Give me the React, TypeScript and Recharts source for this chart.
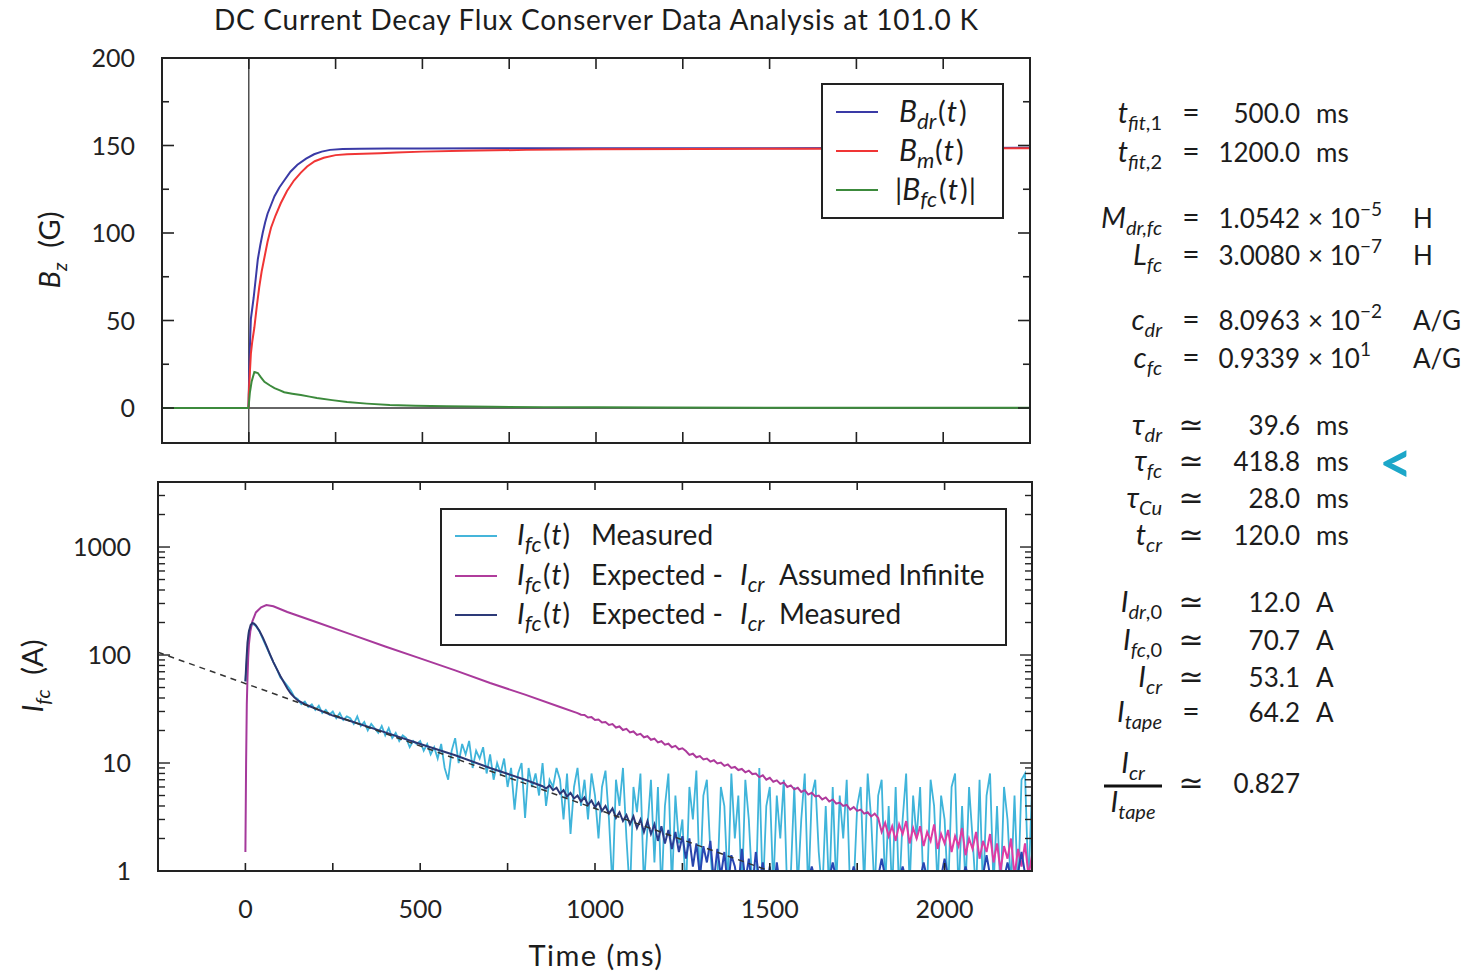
import React from "react";
import { Line, LineChart, ReferenceLine, XAxis, YAxis } from "recharts";

const FONT = "Lato, 'Open Sans', 'DejaVu Sans', sans-serif";
const INK = "#222222";

// top panel: B_z (G) vs time (ms)
const bdrTimes = [-250, -1, 0, 3, 6, 10, 14, 20, 26, 33, 40, 47, 54, 64, 74, 88, 102, 120, 140, 165, 188, 210, 234, 270, 320, 400, 500, 700, 900, 1200, 1500, 1800, 2100, 2250];
const bdrValues = [0, 0, 9, 34, 51, 57, 63, 74, 85, 93, 100, 106, 111, 116, 121, 126, 130, 135, 139, 142.5, 145, 146.5, 147.5, 148, 148.2, 148.3, 148.3, 148.4, 148.4, 148.5, 148.5, 148.6, 148.6, 148.7];

const bmTimes = [-250, -1, 0, 3, 6, 10, 16, 23, 30, 37, 45, 54, 64, 77, 92, 110, 130, 150, 168, 190, 216, 250, 283, 330, 378, 425, 500, 617, 800, 997, 1300, 1600, 1900, 2250];
const bmValues = [0, 0, 8, 20, 31, 38, 46, 58, 69, 78, 86, 95, 103, 110, 117, 124, 130, 134.5, 138, 141, 143, 144.5, 145, 145.3, 145.6, 146, 146.5, 147, 147.5, 147.8, 148, 148.2, 148.3, 148.5];

const bfcTimes = [-250, -1, 0, 3, 8, 16, 26, 35, 45, 60, 74, 88, 102, 125, 150, 175, 196, 240, 283, 340, 406, 480, 570, 700, 850, 1000, 1200, 1500, 2250];
const bfcValues = [0, 0, 2, 8.6, 15, 20.6, 20, 17.5, 15, 13, 11.4, 10.2, 9, 8.2, 7.4, 6.5, 5.7, 4.5, 3.4, 2.5, 1.7, 1.3, 1.0, 0.7, 0.5, 0.4, 0.3, 0.2, 0.1];

// bottom panel: I_fc (A), log scale
// measured current, sampled every 10 ms from t = 0
const measuredStart = 0;
const measuredStep = 10;
const measuredValues = [
  57, 165, 196, 186, 166, 140, 119, 101, 86, 74,
  62, 57, 52, 47, 41, 39, 35, 37, 33, 35,
  31, 34, 29, 31, 28, 30, 26, 29, 25, 27,
  26, 23, 27, 22, 24, 20, 23, 21, 19, 22,
  18, 21, 17, 19, 16, 18, 17, 14, 16, 15,
  16, 13, 15, 12, 14, 11, 15, 9, 7, 13,
  17, 10, 15, 12, 16, 9, 13, 11, 14, 8,
  12, 7, 10, 8, 11, 6, 9, 3.7, 8, 10,
  3.1, 9, 6, 8, 5, 10, 4, 7, 6, 9,
  7, 3, 8, 2.2, 6, 9, 4, 7, 3, 8,
  5, 2, 6, 8.5, 3, 0.7, 7, 4, 9, 2,
  0.6, 6, 3.5, 8, 0.7, 2.5, 7, 1.2, 6, 0.6,
  4, 8, 0.7, 5, 1.8, 3, 0.6, 6, 3, 8.5,
  0.7, 5, 7, 1.5, 0.6, 0.8, 6, 4, 0.7, 8,
  2, 5, 0.6, 7, 3, 0.7, 0.6, 9, 0.6, 4,
  6, 0.7, 5, 2, 7, 0.6, 0.9, 6, 0.7, 3,
  8, 0.6, 5, 7, 1.5, 0.6, 4, 0.6, 6, 0.7,
  5, 2, 7, 0.6, 0.7, 4, 6, 0.7, 8, 3,
  0.6, 5, 7, 0.7, 4, 0.6, 6, 0.6, 3, 8,
  0.7, 5, 2, 6, 0.6, 0.7, 7, 4, 0.7, 5,
  3, 0.6, 6, 8, 0.6, 4, 0.7, 6, 2, 0.6,
  7, 0.6, 5, 8, 0.7, 4, 0.6, 6, 3, 0.7,
  5, 0.6, 7, 8, 0.7, 6,
];

// expected, I_cr assumed infinite
const infiniteTimes = [0, 2, 4, 6, 8, 10, 14, 20, 30, 45, 60, 80, 120, 200, 300, 400, 500, 600, 700, 800, 900, 950];
const infiniteValues = [1.5, 10, 35, 62, 95, 125, 165, 205, 248, 276, 290, 283, 250, 203, 156, 120, 93, 72, 55, 43, 33, 29];
const infiniteTailStart = 960;
const infiniteTailStep = 10;
const infiniteTailValues = [
  28.0, 27.9, 26.4, 26.6, 25.0, 25.3, 23.7, 24.0, 22.5, 22.9,
  21.3, 21.8, 20.2, 20.7, 19.2, 19.6, 18.2, 18.6, 17.3, 17.7,
  16.4, 16.8, 15.5, 15.9, 14.8, 15.1, 14.0, 14.4, 13.4, 13.7,
  12.9, 11.9, 12.2, 11.3, 11.6, 10.8, 11.0, 10.3, 10.6, 9.9,
  10.1, 9.4, 9.7, 9.0, 9.2, 8.6, 8.8, 8.2, 8.5, 7.9,
  8.0, 7.4, 7.7, 7.0, 7.3, 6.7, 6.9, 6.4, 6.6, 6.0,
  6.2, 5.7, 5.9, 5.4, 5.6, 5.1, 5.3, 4.9, 5.0, 4.6,
  4.8, 4.4, 4.6, 4.2, 4.3, 4.0, 4.1, 3.7, 3.9, 3.6,
  3.7, 3.4, 3.5, 3.2, 3.4, 3.1,
  2.3, 2.8, 2.1, 2.6, 1.9, 2.7, 2.2, 2.9, 1.8, 2.5,
  2.0, 2.6, 1.7, 2.3, 1.9, 2.7, 1.6, 2.2, 1.8, 2.4,
  1.5, 2.1, 1.7, 2.5, 1.4, 2.0, 1.6, 2.3, 1.3, 1.9,
  1.5, 2.2, 1.2, 1.8, 1.0, 1.7, 1.3, 2.0, 0.9, 1.6,
  1.1, 1.8, 0.9, 1.4,
];

// expected, I_cr measured
const crTimes = [0, 3, 6, 10, 15, 20, 25, 30, 40, 50, 60, 70, 80, 90, 100, 110, 120, 130, 140, 150, 170, 200, 250, 300, 400, 500, 600, 700, 800, 850];
const crValues = [57, 90, 130, 165, 190, 198, 195, 188, 168, 145, 122, 102, 86, 74, 64, 56, 49, 44, 40.5, 38, 35, 32, 27.5, 24.5, 19.2, 15, 11.8, 9.0, 7.0, 6.1];
const crTailStart = 860;
const crTailStep = 10;
const crTailValues = [
  5.8, 6.2, 5.6, 5.9,
  5.2, 5.6, 4.9, 5.3, 4.7, 5.0, 4.4, 4.8, 4.1, 4.5,
  3.9, 4.3, 3.6, 4.0, 3.4, 3.8, 3.1, 3.5, 2.9, 3.3,
  2.7, 3.2, 2.5, 3.0, 2.3, 2.9, 2.2, 2.7, 1.9, 2.6,
  1.8, 2.4, 1.6, 2.3, 1.5, 2.1, 1.3, 2.0, 1.1, 1.8,
  0.9, 1.7, 1.2, 1.9, 0.8, 1.6, 0.9, 1.5, 0.7, 1.4,
  1.1, 0.7, 1.6, 0.8, 1.3, 0.7, 1.5, 0.8, 1.2, 0.7,
  1.1, 0.6, 1.2, 0.7, 0.9, 0.6, 0.8, 0.6,
];
const crLateStart = 1580;
const crLateStep = 20;
const crLateValues = [
  0.6, 0.6, 1.1, 0.6, 0.6, 1.2, 0.6, 0.6, 1.1, 0.6, 0.6, 0.6,
  1.3, 0.6, 0.6, 1.1, 0.6, 0.6, 1.2, 0.6, 0.6, 1.3, 0.6, 0.6,
  1.1, 0.6, 0.6, 1.4, 0.6, 0.6, 1.2, 0.6, 1.5, 0.6,
];

// exponential fit (dashed)
const fitTimes = [-250, 1500];
const fitValues = [106, 1];

const timeTicks = [0, 250, 500, 750, 1000, 1250, 1500, 1750, 2000];
const fieldTicks = [0, 25, 50, 75, 100, 125, 150, 175, 200];
const currentTicks = [
  1, 2, 3, 4, 5, 6, 7, 8, 9,
  10, 20, 30, 40, 50, 60, 70, 80, 90,
  100, 200, 300, 400, 500, 600, 700, 800, 900,
  1000, 2000, 3000, 4000,
];
const currentDecades = [1, 10, 100, 1000];

const pairs = (ts: number[], vs: number[]) => ts.map((t, i) => ({ t, v: vs[i] }));
const onGrid = (start: number, step: number, vs: number[]) =>
  vs.map((v, i) => ({ t: start + i * step, v }));

const bdrData = pairs(bdrTimes, bdrValues);
const bmData = pairs(bmTimes, bmValues);
const bfcData = pairs(bfcTimes, bfcValues);
const measuredData = onGrid(measuredStart, measuredStep, measuredValues);
const infiniteData = [
  ...pairs(infiniteTimes, infiniteValues),
  ...onGrid(infiniteTailStart, infiniteTailStep, infiniteTailValues),
];
const crData = [
  ...pairs(crTimes, crValues),
  ...onGrid(crTailStart, crTailStep, crTailValues),
  ...onGrid(crLateStart, crLateStep, crLateValues),
];
const fitData = pairs(fitTimes, fitValues);

// plot boxes (chart-local px)
const TOP = { left: 162, right: 1030, top: 58, bottom: 443 };
const BOT = { left: 158, right: 1032, top: 22, bottom: 411 };
const BOT_Y = 460;

function TopXTick(props: any) {
  const { x } = props;
  return (
    <g>
      <line x1={x} x2={x} y1={TOP.bottom} y2={TOP.bottom - 11} stroke={INK} strokeWidth={1.6} />
      <line x1={x} x2={x} y1={TOP.top} y2={TOP.top + 11} stroke={INK} strokeWidth={1.6} />
    </g>
  );
}

function FieldTick(props: any) {
  const { y, payload } = props;
  const major = payload.value % 50 === 0;
  const len = major ? 12 : 7;
  return (
    <g>
      <line x1={TOP.left} x2={TOP.left + len} y1={y} y2={y} stroke={INK} strokeWidth={1.6} />
      <line x1={TOP.right - len} x2={TOP.right} y1={y} y2={y} stroke={INK} strokeWidth={1.6} />
      {major && (
        <text x={TOP.left - 27} y={y + 9} textAnchor="end" fontFamily={FONT} fontSize={25} fill={INK}>
          {payload.value}
        </text>
      )}
    </g>
  );
}

function BotXTick(props: any) {
  const { x, payload } = props;
  const labelled = payload.value % 500 === 0;
  return (
    <g>
      <line x1={x} x2={x} y1={BOT.bottom} y2={BOT.bottom - 8} stroke={INK} strokeWidth={1.6} />
      <line x1={x} x2={x} y1={BOT.top} y2={BOT.top + 8} stroke={INK} strokeWidth={1.6} />
      {labelled && (
        <text x={x} y={BOT.bottom + 47} textAnchor="middle" fontFamily={FONT} fontSize={25} fill={INK}>
          {payload.value}
        </text>
      )}
    </g>
  );
}

function CurrentTick(props: any) {
  const { y, payload } = props;
  const major = currentDecades.includes(payload.value);
  const len = major ? 12 : 7;
  return (
    <g>
      <line x1={BOT.left} x2={BOT.left + len} y1={y} y2={y} stroke={INK} strokeWidth={1.4} />
      <line x1={BOT.right - len} x2={BOT.right} y1={y} y2={y} stroke={INK} strokeWidth={1.4} />
      {major && (
        <text x={BOT.left - 27} y={y + 9} textAnchor="end" fontFamily={FONT} fontSize={25} fill={INK}>
          {payload.value}
        </text>
      )}
    </g>
  );
}

// italic symbol with italic subscript and optional upright subscript tail
function Sym({ b, s = "", tail = "", size = 26, sub = 0 }: { b: string; s?: string; tail?: string; size?: number; sub?: number }) {
  const ss = sub || Math.round(size * 0.68);
  const d = Math.round(size * 0.24);
  return (
    <>
      <tspan fontStyle="italic" fontSize={size}>{b}</tspan>
      {s && (
        <tspan fontStyle="italic" fontSize={ss} dy={d}>
          {s}
        </tspan>
      )}
      {tail && (
        <tspan fontSize={ss} dy={s ? 0 : d}>
          {tail}
        </tspan>
      )}
    </>
  );
}

type Row = { y: number; b: string; s: string; tail?: string; rel: string; num: string; exp?: string; unit: string };

const rows: Row[] = [
  { y: 123, b: "t", s: "fit", tail: ",1", rel: "=", num: "500.0", unit: "ms" },
  { y: 162, b: "t", s: "fit", tail: ",2", rel: "=", num: "1200.0", unit: "ms" },
  { y: 228, b: "M", s: "dr,fc", rel: "=", num: "1.0542", exp: "\u22125", unit: "H" },
  { y: 265, b: "L", s: "fc", rel: "=", num: "3.0080", exp: "\u22127", unit: "H" },
  { y: 330, b: "c", s: "dr", rel: "=", num: "8.0963", exp: "\u22122", unit: "A/G" },
  { y: 368, b: "c", s: "fc", rel: "=", num: "0.9339", exp: "1", unit: "A/G" },
  { y: 435, b: "\u03c4", s: "dr", rel: "\u2243", num: "39.6", unit: "ms" },
  { y: 471, b: "\u03c4", s: "fc", rel: "\u2243", num: "418.8", unit: "ms" },
  { y: 508, b: "\u03c4", s: "Cu", rel: "\u2243", num: "28.0", unit: "ms" },
  { y: 545, b: "t", s: "cr", rel: "\u2243", num: "120.0", unit: "ms" },
  { y: 612, b: "I", s: "dr", tail: ",0", rel: "\u2243", num: "12.0", unit: "A" },
  { y: 650, b: "I", s: "fc", tail: ",0", rel: "\u2243", num: "70.7", unit: "A" },
  { y: 687, b: "I", s: "cr", rel: "\u2243", num: "53.1", unit: "A" },
  { y: 722, b: "I", s: "tape", rel: "=", num: "64.2", unit: "A" },
];

const topLegend = [
  { y: 112, color: "#3a3aa6", s: "dr", bars: false },
  { y: 151, color: "#f03535", s: "m", bars: false },
  { y: 190, color: "#3c8a3c", s: "fc", bars: true },
];

const botLegend = [
  { y: 536, color: "#45b5da", text: "Measured", cr: "" },
  { y: 576, color: "#b03c9c", text: "Expected -", cr: "Assumed Infinite" },
  { y: 615, color: "#2d3a78", text: "Expected -", cr: "Measured" },
];

function Overlay() {
  const txt = { fontFamily: FONT, fill: "#1c1c1c" } as const;
  return (
    <svg
      width={1470}
      height={973}
      style={{ position: "absolute", left: 0, top: 0, pointerEvents: "none" }}
    >
      <text x={596} y={30} textAnchor="middle" fontSize={28} textLength={764} lengthAdjust="spacing" {...txt}>
        DC Current Decay Flux Conserver Data Analysis at 101.0 K
      </text>

      {/* frames */}
      <rect x={TOP.left} y={TOP.top} width={TOP.right - TOP.left} height={TOP.bottom - TOP.top} fill="none" stroke={INK} strokeWidth={2} />
      <rect x={BOT.left} y={BOT.top + BOT_Y} width={BOT.right - BOT.left} height={BOT.bottom - BOT.top} fill="none" stroke={INK} strokeWidth={2} />

      {/* axis titles */}
      <text transform="translate(60,250) rotate(-90)" textAnchor="middle" fontSize={29} {...txt} style={{ whiteSpace: "pre" }}>
        <Sym b="B" s="z" size={29} />
        <tspan dy={-7}>{"  (G)"}</tspan>
      </text>
      <text transform="translate(43,676) rotate(-90)" textAnchor="middle" fontSize={29} {...txt} style={{ whiteSpace: "pre" }}>
        <Sym b="I" s="fc" size={29} />
        <tspan dy={-7}>{"  (A)"}</tspan>
      </text>
      <text x={596} y={966} textAnchor="middle" fontSize={29} letterSpacing={1.5} {...txt}>
        Time (ms)
      </text>

      {/* top legend */}
      <rect x={822} y={84} width={181} height={134} fill="#fff" stroke={INK} strokeWidth={2} />
      {topLegend.map((e) => (
        <g key={e.y}>
          <line x1={836} x2={878} y1={e.y} y2={e.y} stroke={e.color} strokeWidth={2} />
          <text x={e.bars ? 895 : 899} y={e.y + 10} fontSize={29} {...txt} style={{ whiteSpace: "pre" }}>
            {e.bars && <tspan>|</tspan>}
            <tspan x={e.bars ? 905 : 899} />
            <Sym b="B" s={e.s} size={30} sub={22} />
            <tspan x={e.bars ? 939 : e.s === "m" ? 935 : 938} dy={-7}>(</tspan>
            <tspan fontStyle="italic" dx={1}>t</tspan>
            <tspan dx={2}>)</tspan>
            {e.bars && <tspan dx={1}>|</tspan>}
          </text>
        </g>
      ))}

      {/* bottom legend */}
      <rect x={441} y={509} width={565} height={136} fill="#fff" stroke={INK} strokeWidth={2} />
      {botLegend.map((e) => (
        <g key={e.y}>
          <line x1={455} x2={497} y1={e.y} y2={e.y} stroke={e.color} strokeWidth={2} />
          <text x={517} y={e.y + 9} fontSize={28} {...txt} style={{ whiteSpace: "pre" }}>
            <Sym b="I" s="fc" size={29} sub={22} />
            <tspan x={543} dy={-7}>(</tspan>
            <tspan fontStyle="italic" dx={1}>t</tspan>
            <tspan dx={1}>)</tspan>
            <tspan x={591}>{e.text}</tspan>
            {e.cr && (
              <>
                <tspan x={740} fontStyle="italic" fontSize={29}>I</tspan>
                <tspan fontStyle="italic" fontSize={21} dy={7}>cr</tspan>
                <tspan x={779} dy={-7}>{e.cr}</tspan>
              </>
            )}
          </text>
        </g>
      ))}

      {/* fitted parameters */}
      {rows.map((r) => (
        <g key={r.y} fontSize={26} {...txt}>
          <text x={1162} y={r.y} textAnchor="end" style={{ whiteSpace: "pre" }}>
            <Sym b={r.b} s={r.s} tail={r.tail} size={29} />
          </text>
          <text x={1191} y={r.y} textAnchor="middle" fontSize={30}>
            {r.rel}
          </text>
          <text x={1300} y={r.y} textAnchor="end">
            {r.num}
          </text>
          {r.exp ? (
            <>
              <text x={1308} y={r.y} style={{ whiteSpace: "pre" }}>
                <tspan>{"\u00d7 10"}</tspan>
                <tspan fontSize={19} dy={-12}>
                  {r.exp}
                </tspan>
              </text>
              <text x={1413} y={r.y}>
                {r.unit}
              </text>
            </>
          ) : (
            <text x={1316} y={r.y}>
              {r.unit}
            </text>
          )}
        </g>
      ))}
      <g fontSize={26} {...txt}>
        <text x={1133} y={773} textAnchor="middle">
          <Sym b="I" s="cr" size={29} />
        </text>
        <line x1={1104} x2={1162} y1={786} y2={786} stroke="#111" strokeWidth={3} />
        <text x={1133} y={812} textAnchor="middle">
          <Sym b="I" s="tape" size={29} />
        </text>
        <text x={1191} y={793} textAnchor="middle" fontSize={30}>
          {"\u2243"}
        </text>
        <text x={1300} y={793} textAnchor="end">
          0.827
        </text>
      </g>
      <text x={1379} y={483} fontSize={58} fontWeight="bold" fontFamily={FONT} fill="#1ca7c9">
        {"<"}
      </text>
    </svg>
  );
}

export default function App() {
  return (
    <div
      style={{
        position: "absolute",
        left: 0,
        top: 0,
        width: 1470,
        height: 973,
        background: "#fff",
        fontFamily: FONT,
      }}
    >
      <div style={{ position: "absolute", left: 0, top: 0 }}>
        <LineChart width={1060} height={470} margin={{ top: 58, right: 30, bottom: 0, left: 0 }}>
          <XAxis
            type="number"
            dataKey="t"
            domain={[-250, 2250]}
            ticks={timeTicks}
            interval={0}
            allowDataOverflow
            height={27}
            axisLine={false}
            tickLine={false}
            tick={TopXTick}
          />
          <YAxis
            type="number"
            domain={[-20, 200]}
            ticks={fieldTicks}
            interval={0}
            allowDataOverflow
            width={162}
            axisLine={false}
            tickLine={false}
            tick={FieldTick}
          />
          <ReferenceLine x={0} stroke="#333" strokeWidth={1.3} />
          <ReferenceLine
            segment={[
              { x: 0, y: 0 },
              { x: 2250, y: 0 },
            ]}
            stroke="#333"
            strokeWidth={1.3}
          />
          <Line data={bdrData} dataKey="v" type="linear" stroke="#3a3aa6" strokeWidth={2} dot={false} activeDot={false} isAnimationActive={false} />
          <Line data={bmData} dataKey="v" type="linear" stroke="#f03535" strokeWidth={2} dot={false} activeDot={false} isAnimationActive={false} />
          <Line data={bfcData} dataKey="v" type="linear" stroke="#3c8a3c" strokeWidth={2} dot={false} activeDot={false} isAnimationActive={false} />
        </LineChart>
      </div>

      <div style={{ position: "absolute", left: 0, top: BOT_Y }}>
        <LineChart width={1060} height={513} margin={{ top: 22, right: 28, bottom: 0, left: 0 }}>
          <defs>
            <linearGradient id="gradInfinite" x1="0" y1="0" x2="1" y2="0">
              <stop offset="0" stopColor="#a5399b" />
              <stop offset="0.79" stopColor="#b03a9c" />
              <stop offset="0.82" stopColor="#dd3ba3" />
              <stop offset="1" stopColor="#e03ca4" />
            </linearGradient>
            <linearGradient id="gradCr" x1="0" y1="0" x2="1" y2="0">
              <stop offset="0" stopColor="#2b3570" />
              <stop offset="0.5" stopColor="#2b3878" />
              <stop offset="0.58" stopColor="#2846b2" />
              <stop offset="1" stopColor="#2846b2" />
            </linearGradient>
          </defs>
          <XAxis
            type="number"
            dataKey="t"
            domain={[-250, 2250]}
            ticks={timeTicks}
            interval={0}
            allowDataOverflow
            height={102}
            axisLine={false}
            tickLine={false}
            tick={BotXTick}
          />
          <YAxis
            type="number"
            scale="log"
            domain={[1, 4000]}
            ticks={currentTicks}
            interval={0}
            allowDataOverflow
            width={158}
            axisLine={false}
            tickLine={false}
            tick={CurrentTick}
          />
          <Line data={measuredData} dataKey="v" type="linear" stroke="#3fb4da" strokeWidth={1.8} dot={false} activeDot={false} isAnimationActive={false} />
          <Line data={infiniteData} dataKey="v" type="linear" stroke="url(#gradInfinite)" strokeWidth={2} dot={false} activeDot={false} isAnimationActive={false} />
          <Line data={crData} dataKey="v" type="linear" stroke="url(#gradCr)" strokeWidth={2} dot={false} activeDot={false} isAnimationActive={false} />
          <Line data={fitData} dataKey="v" type="linear" stroke="#333" strokeWidth={1.5} strokeDasharray="6 5" dot={false} activeDot={false} isAnimationActive={false} />
        </LineChart>
      </div>

      <Overlay />
    </div>
  );
}
